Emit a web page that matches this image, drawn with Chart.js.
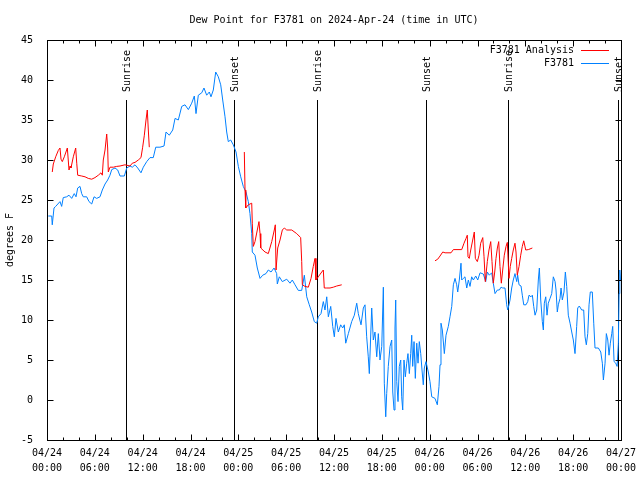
<!DOCTYPE html>
<html>
<head>
<meta charset="utf-8">
<script src="https://cdn.jsdelivr.net/npm/chart.js@4"></script>
<style>
  html, body { margin: 0; padding: 0; background: #fff; }
</style>
</head>
<body>
<canvas id="dewChart" width="640" height="480"></canvas>
<script>
// hours since 2024-04-24 00:00 UTC
const blueHours = [
  0.16,0.59,0.66,0.88,1.09,1.63,1.84,2.04,2.47,2.76,
  3.10,3.42,3.64,3.85,4.14,4.35,4.55,4.98,5.27,5.61,
  5.90,6.23,6.65,6.94,7.28,7.61,7.90,8.12,8.53,8.87,
  9.16,9.70,10.00,10.41,10.70,11.04,11.38,11.79,12.08,12.51,
  12.92,13.33,13.64,14.17,14.68,14.93,15.34,15.77,16.06,16.47,
  16.90,17.31,17.73,18.15,18.48,18.69,18.98,19.41,19.69,20.03,
  20.36,20.57,20.86,21.16,21.49,21.79,22.04,22.33,22.54,22.74,
  23.04,23.37,23.71,24.00,24.30,24.62,24.96,25.25,25.46,25.68,
  25.75,26.09,26.38,26.72,27.06,27.47,27.76,28.10,28.48,28.81,
  28.89,29.14,29.52,30.07,30.48,30.77,31.11,31.52,31.95,32.28,
  32.58,32.90,33.20,33.53,33.83,34.03,34.37,34.66,34.87,35.09,
  35.29,35.59,35.84,36.04,36.25,36.54,36.84,37.09,37.29,37.47,
  37.80,38.22,38.55,38.85,39.05,39.39,39.68,39.89,40.10,40.30,
  40.43,40.73,40.93,41.14,41.36,41.56,41.77,41.99,42.19,42.31,
  42.49,42.61,42.81,43.03,43.24,43.37,43.53,43.65,43.74,43.87,
  44.03,44.19,44.37,44.49,44.62,44.78,44.95,45.12,45.28,45.45,
  45.62,45.75,45.87,46.04,46.20,46.38,46.54,46.70,46.88,47.04,
  47.20,47.33,47.54,47.83,48.04,48.26,48.67,48.96,49.17,49.30,
  49.42,49.59,49.84,50.05,50.34,50.55,50.77,50.97,51.18,51.39,
  51.52,51.72,51.93,52.02,52.22,52.43,52.65,52.85,53.06,53.27,
  53.48,53.78,54.03,54.32,54.73,55.03,55.23,55.48,55.78,55.98,
  56.20,56.49,56.74,56.95,57.16,57.45,57.66,57.79,57.95,58.08,
  58.29,58.49,58.70,58.92,59.04,59.21,59.46,59.62,59.80,60.08,
  60.30,60.46,60.71,60.88,61.05,61.22,61.43,61.63,61.76,61.93,
  62.13,62.26,62.38,62.56,62.72,62.88,63.10,63.31,63.51,63.73,
  63.85,64.01,64.14,64.35,64.48,64.64,64.85,65.02,65.19,65.39,
  65.61,65.82,66.02,66.23,66.44,66.57,66.77,67.07,67.32,67.49,
  67.65,67.83,67.99,68.15,68.40,68.58,68.74,69.16,69.46,69.66,
  69.79,70.00,70.16,70.34,70.50,70.66,70.84,70.96,71.13,71.34,
  71.51,71.67,71.76,71.85,71.93
];
const blueValues = [
  23.0,23.0,21.9,24.0,24.2,24.8,24.2,25.3,25.4,25.6,
  25.2,25.8,25.4,26.5,26.7,25.8,25.4,25.4,24.8,24.5,
  25.4,25.2,25.4,26.25,27.0,27.5,28.1,28.8,29.0,28.75,
  28.0,28.0,29.0,29.25,29.1,29.4,29.0,28.4,29.1,29.8,
  30.3,30.3,31.6,31.6,31.75,33.5,33.1,33.75,35.2,35.0,
  36.7,36.9,36.3,37.1,38.0,35.8,38.1,38.4,39.0,38.1,
  38.5,37.9,38.75,41.0,40.4,39.4,37.5,35.4,33.5,32.3,
  32.5,31.9,31.0,29.2,27.9,26.7,26.0,24.8,23.3,20.8,
  18.5,18.1,16.5,15.2,15.6,15.8,16.25,16.0,16.5,15.8,
  14.5,15.4,14.8,15.1,14.6,15.0,14.4,13.7,13.7,15.6,
  12.9,11.9,11.0,9.8,9.6,10.4,10.8,12.3,11.25,12.9,
  10.4,11.7,9.2,7.9,10.2,8.5,9.4,9.0,9.4,7.1,
  8.3,9.8,10.6,12.1,10.8,9.4,11.5,11.9,7.9,5.4,
  3.3,11.5,7.5,8.5,5.4,8.3,5.0,6.7,14.1,2.1,
  -2.1,0.8,4.2,6.7,7.5,1.0,-1.25,9.0,12.5,2.3,
  -0.2,4.2,5.0,0.4,-1.25,5.0,2.9,4.6,5.8,3.3,
  5.8,8.1,4.2,7.3,2.7,7.1,4.6,7.3,5.8,3.75,
  1.9,4.0,4.8,3.5,2.3,0.4,0.2,-0.6,1.7,4.4,
  9.6,8.75,5.8,8.1,9.2,10.4,11.7,14.4,15.2,14.4,
  13.5,15.0,17.1,15.0,15.2,15.4,14.0,15.0,14.2,15.4,
  15.0,15.5,15.0,15.9,15.75,14.8,16.0,15.6,15.9,14.6,
  13.3,13.75,13.75,14.1,14.0,14.0,11.9,11.25,11.9,12.5,
  14.0,15.0,15.8,14.8,15.6,14.4,14.25,13.1,11.9,11.9,
  12.3,13.1,12.9,13.1,11.7,10.6,11.25,15.0,16.5,12.5,
  9.8,8.75,12.1,12.9,10.6,12.1,12.7,13.3,15.4,14.8,
  13.75,11.0,11.9,12.7,14.0,12.5,13.5,16.0,14.2,10.6,
  9.6,8.5,7.5,5.8,9.2,11.5,11.75,11.25,11.25,7.9,
  6.9,8.3,11.9,13.5,13.5,9.6,6.5,6.5,6.0,4.6,
  2.5,4.6,8.3,7.5,5.6,7.1,8.3,9.2,4.8,4.6,
  4.2,7.1,13.3,16.25,15.0
];

// analysis series, null = no analysis
const redHours = [
  0.66,0.79,1.09,1.42,1.63,1.76,1.92,2.17,2.55,2.76,
  2.89,3.01,3.30,3.60,3.73,3.85,4.35,4.77,5.18,5.61,
  6.02,6.44,6.77,6.94,7.06,7.28,7.49,7.61,7.69,7.90,
  8.32,8.74,9.16,9.78,10.41,10.70,11.04,11.45,11.79,12.00,
  12.21,12.42,12.58,12.71,12.83,
  18.50,
  24.75,24.84,24.93,25.25,25.68,25.75,25.88,26.09,26.38,26.59,
  26.72,26.81,27.35,27.76,28.19,28.51,28.64,28.73,28.94,29.23,
  29.52,29.77,30.07,30.70,31.32,31.82,31.95,32.03,32.36,32.78,
  33.12,33.40,33.62,33.74,34.03,34.46,34.66,34.78,35.09,35.50,
  35.91,36.34,36.97,
  42.00,
  48.67,49.01,49.30,49.64,49.93,50.68,50.97,52.02,52.31,52.56,
  52.72,52.81,52.97,53.15,53.40,53.60,53.73,53.98,54.19,54.40,
  54.66,54.82,54.98,55.23,55.44,55.66,55.82,55.98,56.16,56.32,
  56.49,56.66,56.82,56.99,57.16,57.36,57.58,57.74,57.95,58.11,
  58.29,58.49,58.70,58.83,58.99,59.21,59.42,59.62,59.80,60.05,
  60.38,60.88
];
const redValues = [
  28.5,29.5,30.4,31.2,31.5,30.1,29.8,30.4,31.5,28.75,
  29.25,29.0,30.4,31.5,29.6,28.1,28.0,27.9,27.7,27.6,
  27.8,28.1,28.4,28.1,30.0,31.25,33.25,31.5,28.5,29.1,
  29.1,29.2,29.25,29.4,29.25,29.6,29.7,30.0,30.3,31.6,
  33.1,35.0,36.25,33.75,31.6,
  null,
  31.0,26.25,24.0,24.4,24.6,22.1,19.2,19.8,21.25,22.3,
  20.8,19.0,18.5,18.3,19.8,21.25,21.9,16.25,19.0,20.0,
  21.25,21.5,21.25,21.25,20.8,20.3,17.3,14.4,14.2,14.1,
  15.2,16.7,17.7,15.0,15.4,16.0,16.25,14.0,14.0,14.0,
  14.1,14.25,14.4,
  null,
  17.4,17.6,18.0,18.5,18.4,18.4,18.8,18.8,19.6,20.2,
  20.6,17.9,17.7,18.75,20.0,21.0,17.7,17.3,18.1,19.6,
  20.3,17.9,14.8,17.3,18.75,19.8,17.3,14.6,16.0,17.7,
  19.0,19.8,16.7,14.6,16.25,18.1,19.2,19.7,15.2,16.7,
  17.7,18.75,19.6,18.5,15.6,16.7,18.1,19.2,19.9,18.75,
  18.8,19.0
];

const sunEventHours = [9.87, 23.50, 33.88, 47.58, 57.87, 71.66];
const sunEventLabels = ['Sunrise', 'Sunset', 'Sunrise', 'Sunset', 'Sunrise', 'Sunset'];

const xTickLabels = [
  ['04/24','00:00'], ['04/24','06:00'], ['04/24','12:00'], ['04/24','18:00'],
  ['04/25','00:00'], ['04/25','06:00'], ['04/25','12:00'], ['04/25','18:00'],
  ['04/26','00:00'], ['04/26','06:00'], ['04/26','12:00'], ['04/26','18:00'],
  ['04/27','00:00']
];

const FONT = "'DejaVu Sans Mono', monospace";
Chart.defaults.font.family = FONT;
Chart.defaults.font.size = 10;
Chart.defaults.color = '#000';

// gnuplot look: box, inward ticks, sun lines, key
const gnuplotFrame = {
  id: 'gnuplotFrame',
  beforeDatasetsDraw(chart) {
    const ctx = chart.ctx, a = chart.chartArea, x = chart.scales.x;
    ctx.save();
    ctx.strokeStyle = '#000';
    ctx.fillStyle = '#000';
    ctx.lineWidth = 1;
    ctx.font = '10px ' + FONT;
    sunEventHours.forEach((h, i) => {
      const px = Math.round(x.getPixelForValue(h)) + 0.5;
      ctx.beginPath();
      ctx.moveTo(px, a.top + 60);
      ctx.lineTo(px, a.bottom);
      ctx.stroke();
      ctx.save();
      ctx.translate(px + 1, a.top + 52);
      ctx.rotate(-Math.PI / 2);
      ctx.textAlign = 'left';
      ctx.textBaseline = 'middle';
      ctx.fillText(sunEventLabels[i], 0, 0);
      ctx.restore();
    });
    ctx.restore();
  },
  afterDraw(chart) {
    const ctx = chart.ctx, a = chart.chartArea;
    const x = chart.scales.x, y = chart.scales.y;
    ctx.save();
    ctx.strokeStyle = '#000';
    ctx.lineWidth = 1;
    const L = Math.round(a.left) + 0.5, R = Math.round(a.right) + 0.5;
    const T = Math.round(a.top) + 0.5, B = Math.round(a.bottom) + 0.5;
    ctx.strokeRect(L, T, R - L, B - T);
    ctx.beginPath();
    for (let h = 0; h <= 72; h += 2) {
      const px = Math.round(x.getPixelForValue(h)) + 0.5;
      const len = h % 6 === 0 ? 6 : 3;
      ctx.moveTo(px, B); ctx.lineTo(px, B - len);
      ctx.moveTo(px, T); ctx.lineTo(px, T + len);
    }
    y.ticks.forEach(t => {
      const py = Math.round(y.getPixelForValue(t.value)) + 0.5;
      ctx.moveTo(L, py); ctx.lineTo(L + 6, py);
      ctx.moveTo(R, py); ctx.lineTo(R - 6, py);
    });
    ctx.stroke();

    // key
    ctx.font = '10px ' + FONT;
    ctx.textAlign = 'right';
    ctx.textBaseline = 'middle';
    chart.data.datasets.forEach((ds, i) => {
      const ky = Math.round(a.top) + 10 + i * 13;
      ctx.fillStyle = '#000';
      ctx.fillText(ds.label, a.right - 47, ky);
      ctx.strokeStyle = ds.borderColor;
      ctx.beginPath();
      ctx.moveTo(a.right - 40, ky + 0.5);
      ctx.lineTo(a.right - 12, ky + 0.5);
      ctx.stroke();
    });
    ctx.restore();
  }
};

new Chart(document.getElementById('dewChart'), {
  type: 'line',
  data: {
    datasets: [
      {
        label: 'F3781 Analysis',
        data: redHours.map((h, i) => ({ x: h, y: redValues[i] })),
        borderColor: '#ff0000',
        borderWidth: 1,
        pointRadius: 0,
        spanGaps: false,
        tension: 0
      },
      {
        label: 'F3781',
        data: blueHours.map((h, i) => ({ x: h, y: blueValues[i] })),
        borderColor: '#0080ff',
        borderWidth: 1,
        pointRadius: 0,
        tension: 0
      }
    ]
  },
  options: {
    responsive: false,
    animation: false,
    devicePixelRatio: 1,
    layout: { padding: { left: 0, right: 19, top: 0, bottom: 0 } },
    plugins: {
      legend: { display: false },
      tooltip: { enabled: false },
      title: {
        display: true,
        fullSize: false,
        text: 'Dew Point for F3781 on 2024-Apr-24 (time in UTC)',
        font: { size: 10, weight: 'normal', family: FONT, lineHeight: 1.2 },
        color: '#000',
        padding: { top: 14, bottom: 14 }
      }
    },
    scales: {
      x: {
        type: 'linear',
        min: 0,
        max: 72,
        grid: { display: false },
        border: { display: false },
        ticks: {
          stepSize: 6,
          autoSkip: false,
          maxRotation: 0,
          padding: -2,
          font: { size: 10, lineHeight: 1.5 },
          callback: (v, i) => xTickLabels[i]
        },
        afterFit: s => { s.height = 40; }
      },
      y: {
        min: -5,
        max: 45,
        grid: { display: false },
        border: { display: false },
        ticks: { stepSize: 5, padding: 6 },
        title: {
          display: true,
          text: 'degrees F',
          font: { size: 10 },
          padding: { top: 4, bottom: 0 }
        },
        afterFit: s => { s.width = 47; }
      }
    }
  },
  plugins: [gnuplotFrame]
});
</script>
</body>
</html>
